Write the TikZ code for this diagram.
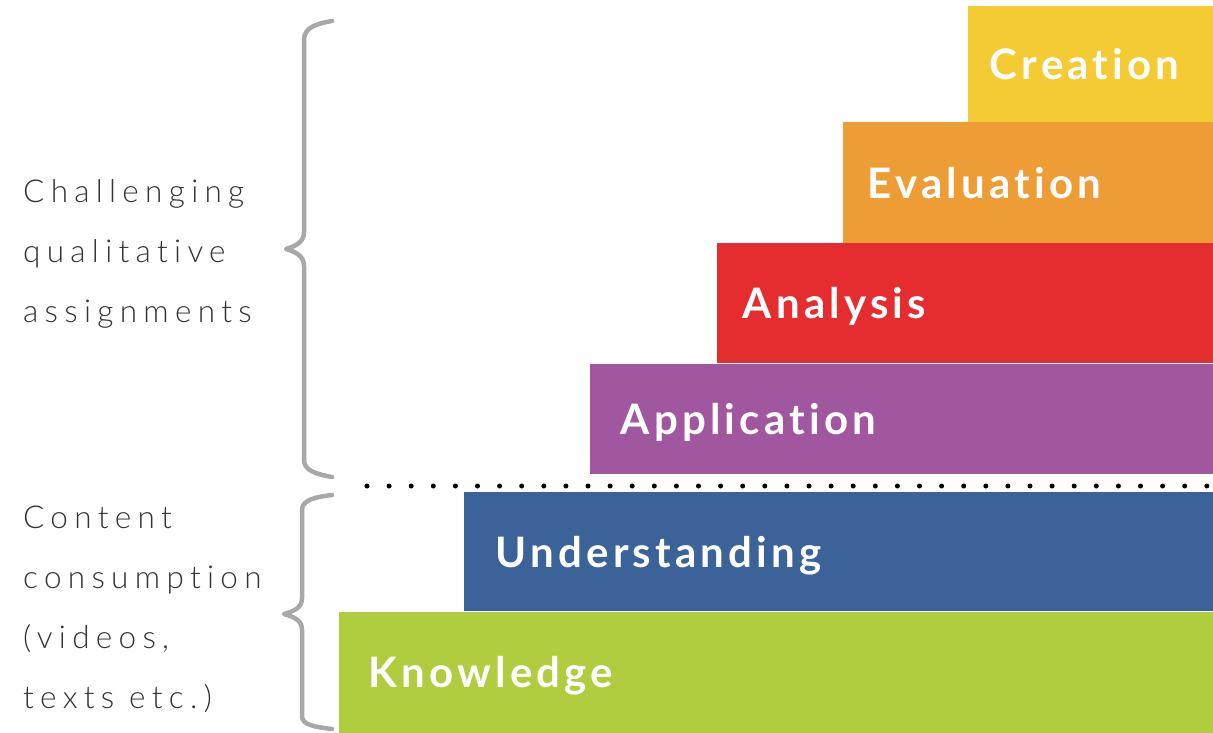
\documentclass[tikz,border=0pt]{standalone}
\usepackage{fontspec}
\setmainfont{Lato}
\newfontfamily\barfont[LetterSpace=10,Ligatures=NoCommon]{Lato}
\newfontfamily\sidefont[LetterSpace=20,Ligatures=NoCommon]{Lato Light}
\usepackage{tikz}
\usetikzlibrary{positioning}
\definecolor{knowc}{HTML}{AFCD3F}
\definecolor{undc}{HTML}{3B6399}
\definecolor{appc}{HTML}{A0579F}
\definecolor{anac}{HTML}{E52D30}
\definecolor{evac}{HTML}{EE9D36}
\definecolor{crec}{HTML}{F5CB33}
\definecolor{bracec}{HTML}{A8A8A8}
\definecolor{sidec}{HTML}{333333}

\begin{document}
\begin{tikzpicture}[
	x=1pt, y=-1pt,
	bar/.style={
		rectangle, inner sep=0pt,
		anchor=south east, text=white
	},
	lbl/.style={
		inner sep=0pt, text=white, anchor=base west, yshift=-15.5pt,
		font=\barfont\fontsize{42}{50}\bfseries\selectfont
	},
	side/.style={
		inner sep=0pt, anchor=base west, align=left, text=sidec,
		font=\sidefont\fontsize{31.5}{60}\selectfont
	},
	curly/.style={
		draw=bracec, line width=4.5pt, line cap=round, line join=round
	}
	]
	\useasboundingbox (0,0) rectangle (1213,733);
	% steps
	\node[bar, fill=knowc, minimum width=874pt, minimum height=121pt] (1) at (1213,733) {};
	\node[bar, fill=undc, minimum width=749pt, minimum height=119pt] (2) at (1.north east) {};
	\node[bar, fill=appc, minimum width=623pt, minimum height=110pt] (3) at (1213,474) {};
	\node[bar, fill=anac, minimum width=496pt, minimum height=120pt] (4) at (3.north east) {};
	\node[bar, fill=evac, minimum width=370pt, minimum height=121pt] (5) at (4.north east) {};
	\node[bar, fill=crec, minimum width=245pt, minimum height=116pt] (6) at (5.north east) {};
	% labels
	\node[lbl, right=30pt of 1.west, anchor=base west] (K) {Knowledge};
	\node[lbl, right=32pt of 2.west, anchor=base west] (U) {Understanding};
	\node[lbl, right=31pt of 3.west, anchor=base west] (Ap) {Application};
	\node[lbl, right=26pt of 4.west, anchor=base west] (An) {Analysis};
	\node[lbl, right=25pt of 5.west, anchor=base west] (E) {Evaluation};
	\node[lbl, right=22pt of 6.west, anchor=base west] (C) {Creation};
	% divider
	\coordinate (dl) at (367,486);
	\coordinate (dr) at (1207,486);
	\draw[line width=5pt, line cap=round, dash pattern=on 0pt off 22.1pt] (dl) -- (dr);
	% braces
	\draw[curly] (332,21) .. controls (315,24) and (304,28) .. (304,40) -- (304,232)
		.. controls (304,242) and (296,246) .. (286,249)
		.. controls (296,252) and (304,256) .. (304,266) -- (304,460)
		.. controls (304,470) and (315,474) .. (332,477);
	\draw[curly] (332,495) .. controls (315,497) and (302,500) .. (302,510) -- (302,598)
		.. controls (302,608) and (294,611) .. (284,614)
		.. controls (294,617) and (302,620) .. (302,630) -- (302,716)
		.. controls (302,725) and (315,727) .. (332,729);
	% side texts (base = last line)
	\node[side] (top) at (23,322) {Challenging\\qualitative\\assignments};
	\node[side] (bot) at (23,708) {Content\\consumption\\(videos,\\texts etc.)};
\end{tikzpicture}
\end{document}
